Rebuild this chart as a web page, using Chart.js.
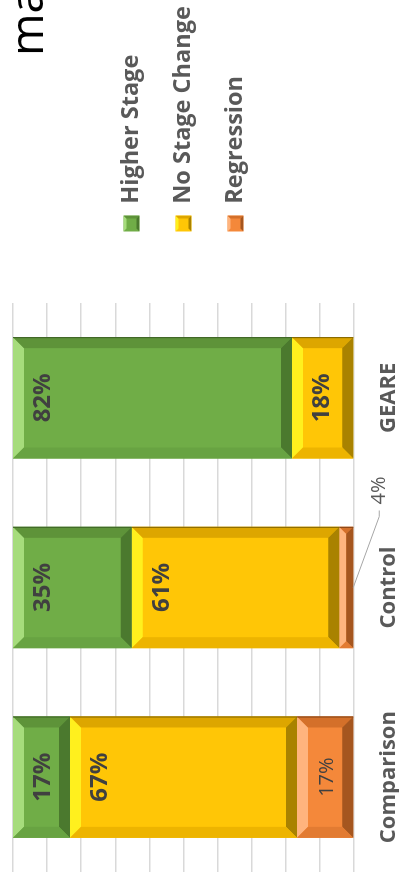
<!DOCTYPE html>
<html lang="en">
<head>
<meta charset="utf-8">
<title>Stage change by group</title>
<script src="https://cdn.jsdelivr.net/npm/chart.js@4.4.1/dist/chart.umd.min.js"></script>
<style>
  html, body { margin: 0; padding: 0; background: #fff; }
  body { width: 399px; height: 884px; overflow: hidden; position: relative; }
  /* the chart is laid out landscape and turned a quarter to the left, like the source */
  #wrap {
    position: absolute; left: 0; top: 0;
    width: 884px; height: 399px;
    transform-origin: 0 0;
    transform: translateY(884px) rotate(-90deg);
  }
</style>
</head>
<body>
<div id="wrap"><canvas id="chart" width="884" height="399"></canvas></div>
<script>
// ── Data ────────────────────────────────────────
const categories = ['Comparison', 'Control', 'GEARE'];
const seriesNames = ['Higher Stage', 'No Stage Change', 'Regression'];
const higherStage = [16.7, 34.8, 81.8];
const noStageChange = [66.6, 60.9, 18.2];
const regression = [16.7, 4.3, 0];
const titleText = 'ma';

// ── Look ────────────────────────────────────────
const FONT = "'Open Sans', 'Noto Sans', sans-serif";
const LEGEND_W = 260;   // legend box width, keeps markers where the source has them
const Y_GAP = 43;       // empty strip between plot and legend
const BEVEL = 11;

const palettes = {
    green:  { base: '#70AD47', light: '#A6DC7C', right: '#5E9339', bottom: '#4B792E', left: '#68A342', line: '#3D6226' },
    yellow: { base: '#FFC606', light: '#FFF01E', right: '#DDA600', bottom: '#A98200', left: '#EDB400', line: '#7E6200' },
    orange: { base: '#F4883A', light: '#FFB47E', right: '#D4702A', bottom: '#A5561F', left: '#E27B32', line: '#7E4116' }
};

// stacking goes bottom-up in Chart.js, so the list starts with Regression
const series = [
    { label: seriesNames[2], data: regression, pal: palettes.orange, bold: false },
    { label: seriesNames[1], data: noStageChange, pal: palettes.yellow, bold: true },
    { label: seriesNames[0], data: higherStage, pal: palettes.green, bold: true }
];

// ── Helpers ─────────────────────────────────────
function poly(ctx, pts, color) {
    ctx.beginPath();
    ctx.moveTo(pts[0][0], pts[0][1]);
    for (let i = 1; i < pts.length; i++) ctx.lineTo(pts[i][0], pts[i][1]);
    ctx.closePath();
    ctx.fillStyle = color;
    ctx.fill();
}

function drawBevel(ctx, l, t, r, b, pal) {
    const s = Math.min(BEVEL, (r - l) / 2, (b - t) / 2);
    poly(ctx, [[l, t], [r, t], [r - s, t + s], [l + s, t + s]], pal.light);
    poly(ctx, [[r, t], [r, b], [r - s, b - s], [r - s, t + s]], pal.right);
    poly(ctx, [[l, b], [r, b], [r - s, b - s], [l + s, b - s]], pal.bottom);
    poly(ctx, [[l, t], [l + s, t + s], [l + s, b - s], [l, b]], pal.left);
    ctx.strokeStyle = pal.line;
    ctx.lineWidth = 1;
    ctx.beginPath();
    ctx.moveTo(r - 0.5, t);
    ctx.lineTo(r - 0.5, b);
    ctx.stroke();
}

// ── Plugins ─────────────────────────────────────
const legendWidthPlugin = {
    id: 'legendWidth',
    beforeLayout(chart) {
        const lg = chart.legend;
        if (!lg || lg._fixedWidth) return;
        const fit = lg.fit.bind(lg);
        lg.fit = function () { fit(); this.width = LEGEND_W; };
        lg._fixedWidth = true;
    }
};

const decorPlugin = {
    id: 'decor',
    afterDatasetsDraw(chart) {
        const ctx = chart.ctx;
        ctx.save();

        // bevels on every segment
        series.forEach((s, di) => {
            chart.getDatasetMeta(di).data.forEach((bar, j) => {
                if (!s.data[j]) return;
                const { x, y, base, width } = bar.getProps(['x', 'y', 'base', 'width'], true);
                drawBevel(ctx, x - width / 2, Math.min(y, base), x + width / 2, Math.max(y, base), s.pal);
            });
        });

        // bevels on legend markers
        const lg = chart.legend;
        (lg.legendHitBoxes || []).forEach((hb, k) => {
            const item = lg.legendItems[k];
            const pal = series[item.datasetIndex].pal;
            const bw = lg.options.labels.boxWidth, bh = lg.options.labels.boxHeight;
            const top = hb.top + (hb.height - bh) / 2;
            ctx.save();
            ctx.beginPath();
            ctx.rect(hb.left, top, bw, bh);
            ctx.clip();
            poly(ctx, [[hb.left, top], [hb.left + bw, top], [hb.left + bw / 2, top + bh / 2]], pal.light);
            poly(ctx, [[hb.left + bw, top], [hb.left + bw, top + bh], [hb.left + bw / 2, top + bh / 2]], pal.right);
            poly(ctx, [[hb.left, top + bh], [hb.left + bw, top + bh], [hb.left + bw / 2, top + bh / 2]], pal.bottom);
            ctx.fillStyle = pal.base;
            ctx.fillRect(hb.left + 3, top + 3, bw - 6, bh - 6);
            ctx.restore();
        });

        // value labels
        ctx.textAlign = 'center';
        ctx.textBaseline = 'middle';
        series.forEach((s, di) => {
            chart.getDatasetMeta(di).data.forEach((bar, j) => {
                const v = s.data[j];
                if (!v) return;
                const { x, y, base } = bar.getProps(['x', 'y', 'base'], true);
                const txt = Math.round(v) + '%';
                if (Math.abs(base - y) < 22) {
                    // too thin: put it outside with a leader line
                    ctx.strokeStyle = '#A6A6A6';
                    ctx.lineWidth = 1;
                    ctx.beginPath();
                    ctx.moveTo(x, base);
                    ctx.lineTo(x + 71, base + 26);
                    ctx.lineTo(x + 77, base + 26);
                    ctx.stroke();
                    ctx.font = `20px ${FONT}`;
                    ctx.fillStyle = '#595959';
                    ctx.fillText(txt, x + 97, base + 26);
                    return;
                }
                ctx.font = s.bold ? `bold 24px ${FONT}` : `20px ${FONT}`;
                ctx.fillStyle = '#404040';
                ctx.fillText(txt, x, Math.min(y, base) + 30);
            });
        });

        ctx.restore();
    },
    afterDraw(chart) {
        const ctx = chart.ctx;
        ctx.save();
        ctx.font = `46px ${FONT}`;
        ctx.fillStyle = '#000';
        ctx.textAlign = 'left';
        ctx.textBaseline = 'alphabetic';
        ctx.fillText(titleText, 828, 43);
        ctx.restore();
    }
};

// ── Chart ───────────────────────────────────────
new Chart(document.getElementById('chart'), {
    type: 'bar',
    data: {
        labels: categories,
        datasets: series.map(s => ({
            label: s.label,
            data: s.data,
            backgroundColor: s.pal.base,
            borderWidth: 0,
            borderSkipped: false,
            categoryPercentage: 1,
            barPercentage: 0.64
        }))
    },
    options: {
        responsive: false,
        animation: false,
        devicePixelRatio: 1,
        layout: { padding: { left: 12, top: 13, right: 0, bottom: 0 } },
        plugins: {
            tooltip: { enabled: false },
            legend: {
                position: 'right',
                align: 'center',
                reverse: true,
                fullSize: false,
                labels: {
                    boxWidth: 16,
                    boxHeight: 16,
                    padding: 28.5,
                    color: '#595959',
                    font: { family: FONT, size: 23.5, weight: 'bold' }
                }
            }
        },
        scales: {
            x: {
                stacked: true,
                grid: { display: false, drawTicks: false },
                border: { display: false },
                ticks: { color: '#595959', padding: 22, font: { family: FONT, size: 22, weight: 'bold' } },
                afterFit: s => { s.height = 45; }
            },
            y: {
                stacked: true,
                position: 'right',
                min: 0,
                max: 100,
                ticks: { display: false, stepSize: 10 },
                grid: { color: '#D9D9D9', lineWidth: 1.5, drawTicks: false },
                border: { display: false },
                afterFit: s => { s.width = Y_GAP; }
            }
        }
    },
    plugins: [legendWidthPlugin, decorPlugin]
});
</script>
</body>
</html>
